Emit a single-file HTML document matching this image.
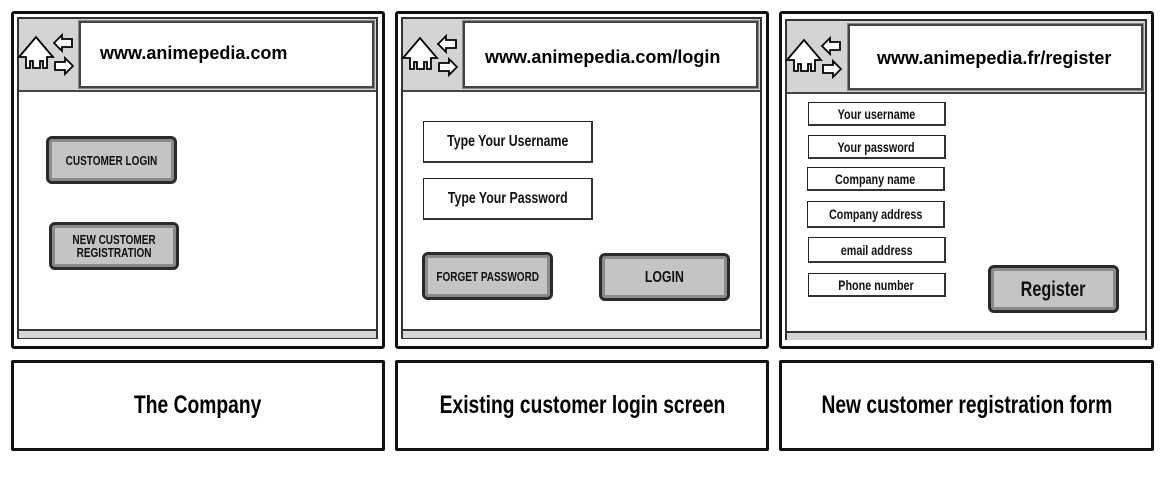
<!DOCTYPE html>
<html><head><meta charset="utf-8"><style>
body{margin:0;width:1164px;height:487px;background:#fff;position:relative;overflow:hidden;font-family:"Liberation Sans",sans-serif}
.a{position:absolute;box-sizing:border-box}
.outer{border:3px solid #111;border-radius:3px}
.inner{border:2px solid #333;background:#fff}
.hdr{background:#d4d4d4;border-bottom:2px solid #444}
.url{background:#fff;border:2px solid #444;outline:1px solid #888;font-family:"Liberation Sans",sans-serif;font-weight:bold;font-size:18px;color:#000}
.bar{background:#d4d4d4;border-top:2px solid #333}
.btn{border:3px solid #2a2a2a;border-radius:6px;background:#c4c4c4;box-shadow:inset 0 0 0 3px #8a8a8a;font-weight:bold;font-size:13px;display:flex;align-items:center;justify-content:center;text-align:center;line-height:13px;color:#111;white-space:nowrap}
.box{border:1px solid #222;border-right:2px solid #333;border-bottom:2px solid #333;background:#fff;font-weight:bold;display:flex;align-items:center;justify-content:center;color:#111;white-space:nowrap}
.cap{border:3px solid #111;border-radius:2px;display:flex;align-items:center;justify-content:center;font-weight:bold;font-size:25px;color:#000;white-space:nowrap}
.n{display:inline-block;transform:scaleX(0.77)}
</style></head><body>

<!-- panel 1 -->
<div class="a outer" style="left:11px;top:11px;width:374px;height:338px"></div>
<div class="a inner" style="left:17px;top:17px;width:361px;height:322px"></div>
<div class="a hdr" style="left:19px;top:19px;width:357px;height:73px"></div>
<div class="a url" style="left:79px;top:21px;width:295px;height:67px;padding:20px 0 0 19px">www.animepedia.com</div>
<div class="a bar" style="left:19px;top:329px;width:357px;height:9px"></div>
<div class="a btn" style="left:46px;top:136px;width:131px;height:48px"><span class="n">CUSTOMER LOGIN</span></div>
<div class="a btn" style="left:49px;top:222px;width:130px;height:48px"><span class="n">NEW CUSTOMER<br>REGISTRATION</span></div>

<!-- panel 2 -->
<div class="a outer" style="left:395px;top:11px;width:374px;height:338px"></div>
<div class="a inner" style="left:401px;top:17px;width:361px;height:322px"></div>
<div class="a hdr" style="left:403px;top:19px;width:357px;height:73px"></div>
<div class="a url" style="left:463px;top:21px;width:295px;height:67px;padding:24px 0 0 20px">www.animepedia.com/login</div>
<div class="a bar" style="left:403px;top:329px;width:357px;height:9px"></div>
<div class="a box" style="left:423px;top:121px;width:170px;height:42px;font-size:16px"><span class="n">Type Your Username</span></div>
<div class="a box" style="left:423px;top:178px;width:170px;height:42px;font-size:16px"><span class="n">Type Your Password</span></div>
<div class="a btn" style="left:422px;top:252px;width:131px;height:48px"><span class="n">FORGET PASSWORD</span></div>
<div class="a btn" style="left:599px;top:253px;width:131px;height:48px;font-size:16px"><span class="n">LOGIN</span></div>

<!-- panel 3 -->
<div class="a outer" style="left:779px;top:11px;width:375px;height:338px"></div>
<div class="a inner" style="left:785px;top:19px;width:362px;height:321px"></div>
<div class="a hdr" style="left:787px;top:21px;width:358px;height:73px"></div>
<div class="a url" style="left:848px;top:24px;width:295px;height:66px;padding:22px 0 0 27px">www.animepedia.fr/register</div>
<div class="a bar" style="left:787px;top:331px;width:358px;height:9px"></div>
<div class="a box" style="left:808px;top:102px;width:138px;height:24px;font-size:14px"><span class="n">Your username</span></div>
<div class="a box" style="left:808px;top:135px;width:138px;height:24px;font-size:14px"><span class="n">Your password</span></div>
<div class="a box" style="left:807px;top:167px;width:138px;height:24px;font-size:14px"><span class="n">Company name</span></div>
<div class="a box" style="left:807px;top:201px;width:138px;height:27px;font-size:14px"><span class="n">Company address</span></div>
<div class="a box" style="left:808px;top:237px;width:138px;height:26px;font-size:14px"><span class="n">email address</span></div>
<div class="a box" style="left:808px;top:273px;width:138px;height:24px;font-size:14px"><span class="n">Phone number</span></div>
<div class="a btn" style="left:988px;top:265px;width:131px;height:48px;font-size:21px"><span class="n">Register</span></div>

<!-- icons -->
<svg class="a" style="left:0;top:0" width="1164" height="120">
<defs><g id="ic" fill="#fff" stroke="#000" stroke-width="1.8" stroke-linejoin="miter">
<path d="M19,57 L36,37 L53,57 L47,57 L47,68 L43,68 L43,61 L40,61 L40,68 L33,68 L33,61 L30,61 L30,68 L26,68 L26,57 Z"/>
<path d="M54,43 L62,35 L62,39 L72,39 L72,47 L62,47 L62,51 Z"/>
<path d="M73,66 L65,58 L65,62 L55,62 L55,70 L65,70 L65,74 Z"/>
</g></defs>
<use href="#ic" x="0" y="0"/>
<use href="#ic" x="384" y="1"/>
<use href="#ic" x="768" y="3"/>
</svg>

<!-- captions -->
<div class="a cap" style="left:11px;top:360px;width:374px;height:91px"><span class="n">The Company</span></div>
<div class="a cap" style="left:395px;top:360px;width:374px;height:91px"><span class="n">Existing customer login screen</span></div>
<div class="a cap" style="left:779px;top:360px;width:375px;height:91px"><span class="n">New customer registration form</span></div>
</body></html>
